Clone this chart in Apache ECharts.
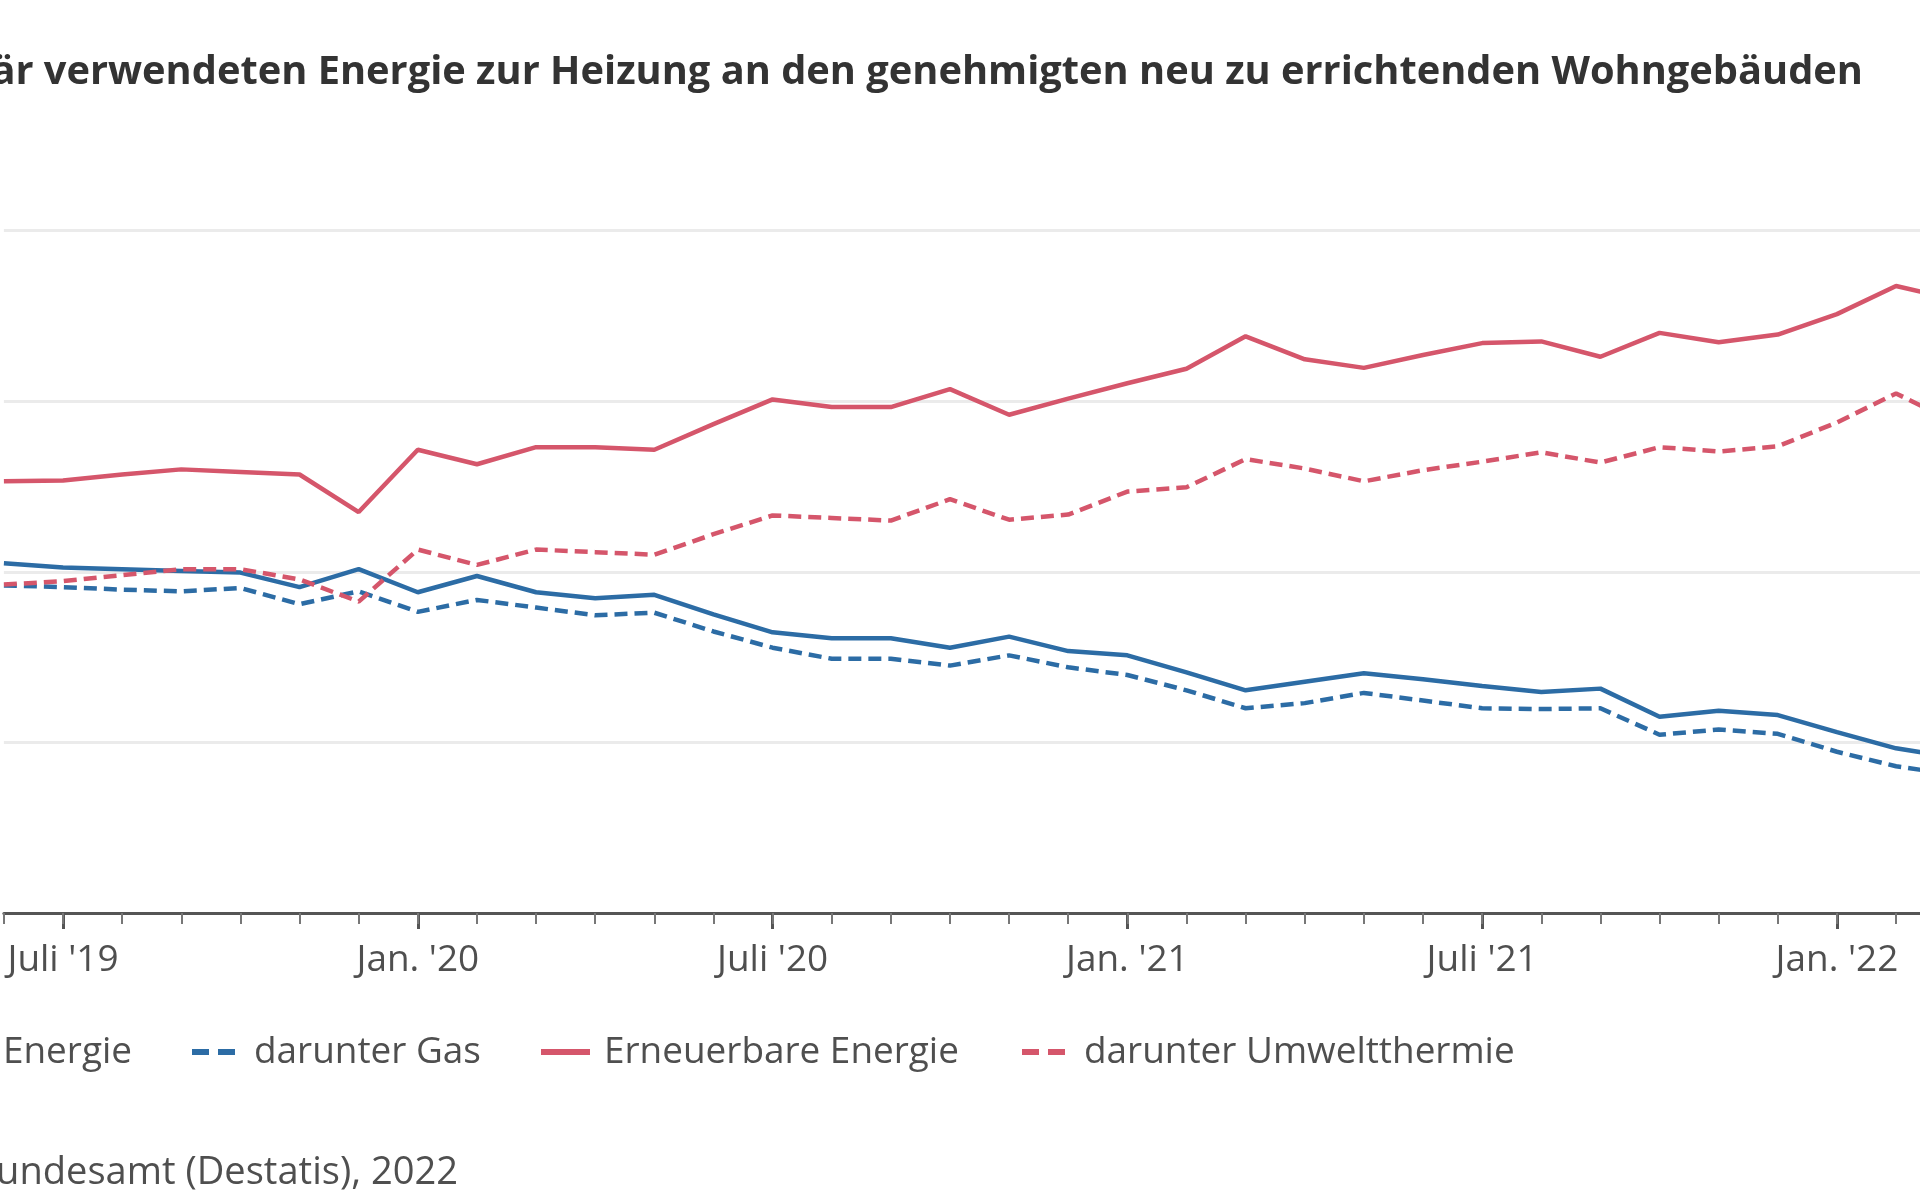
<!DOCTYPE html>
<html>
  <meta charset="UTF-8">
  <title>Energie zur Heizung in neuen Wohngebäuden</title>
  <style type="text/css">
    html,body{margin:0px;height:100%;width:100%;overflow:hidden;background:#fff}
    #chart{position:absolute;left:-400px;top:0px;width:2500px;height:1200px}
  </style>
  <script type="text/javascript" src="https://cdn.jsdelivr.net/npm/echarts@6/dist/echarts.min.js"></script>
  <body>
    <div id="chart"></div>

    <script>
      // months (only Jan. / Juli get a label)
      var months = ["Juni '19", "Juli '19", "Aug. '19", "Sep. '19", "Okt. '19", "Nov. '19", "Dez. '19",
        "Jan. '20", "Feb. '20", "März '20", "Apr. '20", "Mai '20", "Juni '20", "Juli '20", "Aug. '20",
        "Sep. '20", "Okt. '20", "Nov. '20", "Dez. '20", "Jan. '21", "Feb. '21", "März '21", "Apr. '21",
        "Mai '21", "Juni '21", "Juli '21", "Aug. '21", "Sep. '21", "Okt. '21", "Nov. '21", "Dez. '21",
        "Jan. '22", "Feb. '22", "März '22"];

      // Anteil in %
      var konventionell = [41.0, 40.5, 40.3, 40.1, 39.9, 38.2, 40.3, 37.6, 39.5, 37.6, 36.9, 37.3, 35.0,
        32.9, 32.2, 32.2, 31.1, 32.4, 30.7, 30.2, 28.2, 26.1, 27.1, 28.1, 27.4, 26.6, 25.9, 26.3, 23.0,
        23.7, 23.2, 21.2, 19.3, 18.2];
      var gas = [38.4, 38.2, 37.9, 37.7, 38.1, 36.2, 37.7, 35.3, 36.7, 35.8, 34.9, 35.2, 33.0, 31.1, 29.8,
        29.8, 29.0, 30.2, 28.8, 27.9, 26.1, 24.0, 24.6, 25.8, 24.9, 24.0, 23.9, 24.0, 20.9, 21.5, 21.0,
        18.9, 17.2, 16.2];
      var erneuerbar = [50.6, 50.7, 51.4, 52.0, 51.7, 51.4, 47.0, 54.3, 52.6, 54.6, 54.6, 54.3, 57.3, 60.2,
        59.3, 59.3, 61.4, 58.4, 60.3, 62.1, 63.8, 67.6, 64.9, 63.9, 65.4, 66.8, 67.0, 65.2, 68.0, 66.9,
        67.8, 70.2, 73.5, 71.9];
      var umweltthermie = [38.5, 38.9, 39.6, 40.3, 40.3, 39.1, 36.5, 42.6, 40.8, 42.6, 42.3, 42.0, 44.4,
        46.6, 46.3, 46.0, 48.5, 46.1, 46.7, 49.4, 49.9, 53.2, 52.1, 50.6, 51.9, 52.9, 54.0, 52.8, 54.6,
        54.1, 54.7, 57.5, 60.9, 57.5];

      var names = ['Konventionelle Energie', 'darunter Gas', 'Erneuerbare Energie', 'darunter Umweltthermie'];
      var titleText = 'Anteil der primär verwendeten Energie zur Heizung an den genehmigten neu zu errichtenden Wohngebäuden';
      var sourceText = 'Quelle: Statistisches Bundesamt (Destatis), 2022';

      var BLUE = '#2c6ca5', RED = '#d5566b', TEXT = '#4f4f4f';
      var FONT = '"Open Sans", "Noto Sans", sans-serif';
      var OX = 400, W = 2500;

      // size fonts so the text widths match the picture
      var ctx = document.createElement('canvas').getContext('2d');
      function fit(txt, weight, target) {
        ctx.font = weight + ' 100px ' + FONT;
        return 100 * target / ctx.measureText(txt).width;
      }
      var fs = fit('Erneuerbare Energie', 'normal', 355);
      var sourceFs = fit('undesamt (Destatis), 2022', 'normal', 462);
      var titleFs = fit('är verwendeten Energie zur Heizung an den genehmigten neu zu errichtenden Wohngebäuden', 'bold', 1872);

      function isMajor(i, v) {
        return v.indexOf('Jan.') === 0 || v.indexOf('Juli') === 0;
      }

      var SOLID_ICON = 'path://M0,0h49v6h-49z';
      var DASH_ICON = 'path://M0,0h17v6h-17zM26,0h17v6h-17z';

      function legendItem(name, pos, dashed, gap) {
        var l = {
          data: [name],
          top: 1032,
          padding: 0,
          icon: dashed ? DASH_ICON : SOLID_ICON,
          itemWidth: dashed ? 43 : 49,
          itemHeight: 6,
          selectedMode: false,
          textStyle: { fontSize: fs, fontFamily: FONT, color: TEXT, lineHeight: 40, padding: [0, 0, 0, gap] }
        };
        for (var k in pos) l[k] = pos[k];
        return l;
      }

      var chart = echarts.init(document.getElementById('chart'));
      chart.setOption({
        backgroundColor: '#fff',
        animation: false,
        graphic: [
          { type: 'text', x: OX + 1863, y: 73, style: { text: titleText, align: 'right', verticalAlign: 'middle',
            fontSize: titleFs, fontWeight: 'bold', fontFamily: FONT, fill: '#333' } },
          { type: 'text', x: OX + 458, y: 1173, style: { text: sourceText, align: 'right', verticalAlign: 'middle',
            fontSize: sourceFs, fontFamily: FONT, fill: TEXT } }
        ],
        legend: [
          legendItem(names[0], { right: W - (OX + 132) }, false, 14),
          legendItem(names[1], { left: OX + 192 }, true, 14),
          legendItem(names[2], { left: OX + 541 }, false, 9),
          legendItem(names[3], { left: OX + 1022 }, true, 14)
        ],
        grid: { left: OX + 3.9, width: 59.13 * (months.length - 1), top: 230.5, height: 682.5 },
        xAxis: [
          {
            type: 'category', data: months, boundaryGap: false,
            axisLine: { lineStyle: { color: '#555', width: 3 } },
            axisTick: { interval: isMajor, length: 16, lineStyle: { color: '#555', width: 3 } },
            axisLabel: { interval: isMajor, margin: 29, fontSize: fs, fontFamily: FONT, color: TEXT },
            splitLine: { show: false }
          },
          {
            type: 'category', data: months, boundaryGap: false, position: 'bottom',
            axisLine: { show: false },
            axisTick: { interval: 0, length: 11, lineStyle: { color: '#777', width: 2 } },
            axisLabel: { show: false },
            splitLine: { show: false }
          }
        ],
        yAxis: {
          type: 'value', min: 0, max: 80, interval: 20,
          axisLine: { show: false }, axisTick: { show: false }, axisLabel: { show: false },
          splitLine: { lineStyle: { color: '#ebebeb', width: 3 } }
        },
        series: [
          { name: names[0], type: 'line', data: konventionell, symbol: 'none', color: BLUE,
            lineStyle: { width: 4.5, color: BLUE } },
          { name: names[1], type: 'line', data: gas, symbol: 'none', color: BLUE,
            lineStyle: { width: 4.5, color: BLUE, type: [13, 7] } },
          { name: names[2], type: 'line', data: erneuerbar, symbol: 'none', color: RED,
            lineStyle: { width: 4.5, color: RED } },
          { name: names[3], type: 'line', data: umweltthermie, symbol: 'none', color: RED,
            lineStyle: { width: 4.5, color: RED, type: [13, 7] } }
        ]
      });
    </script>
  </body>
</html>
